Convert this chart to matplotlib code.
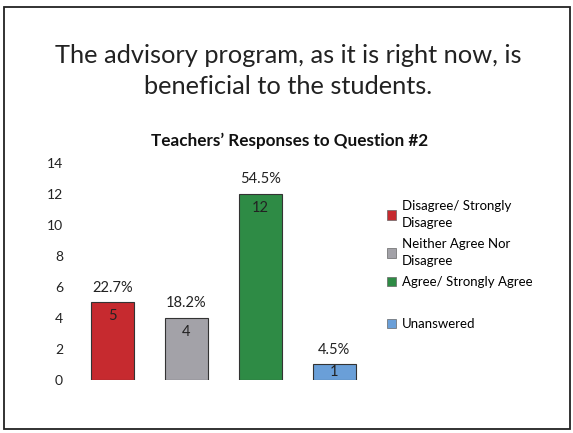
import matplotlib
matplotlib.use("Agg")
import matplotlib.pyplot as plt
from matplotlib.patches import Rectangle, Patch

plt.rcParams['font.family'] = ['Lato', 'DejaVu Sans']

# data
categories = ["Disagree/ Strongly\nDisagree", "Neither Agree Nor\nDisagree",
              "Agree/ Strongly Agree", "Unanswered"]
counts = [5, 4, 12, 1]
percents = ["22.7%", "18.2%", "54.5%", "4.5%"]
colors = ["#C62A2F", "#A3A2A8", "#2E8B45", "#6A9FD8"]
yticks = [0, 2, 4, 6, 8, 10, 12, 14]

fig = plt.figure(figsize=(5.73, 4.33), dpi=100)
fig.patch.set_facecolor("white")

# slide frame
fig.patches.append(Rectangle((4 / 573, 4 / 433), 566 / 573, 422 / 433,
                             transform=fig.transFigure, fill=False,
                             edgecolor="#222222", linewidth=1.3))

fig.text(0.503, 0.836, "The advisory program, as it is right now, is\nbeneficial to the students.",
         ha="center", va="center", fontsize=18.3, fontweight="normal",
         linespacing=1.4, color="#222222")
fig.text(0.505, 0.675, "Teachers\u2019 Responses to Question #2",
         ha="center", va="center", fontsize=12.3, fontweight="bold", color="#111111")

ax = fig.add_axes([0.1318, 0.1224, 0.5162, 0.5012])
x = range(len(counts))
bars = ax.bar(x, counts, width=0.58, color=colors, edgecolor="#333333", linewidth=0.8)

for i, b in enumerate(bars):
    cx = b.get_x() + b.get_width() / 2
    ax.text(cx, counts[i] + 0.5, percents[i],
            ha="center", va="bottom", fontsize=10.5, color="#222222")
    ax.text(cx, max(counts[i] - 0.9, counts[i] / 2), str(counts[i]),
            ha="center", va="center", fontsize=10.5, color="#222222")

ax.set_xlim(-0.5, 3.5)
ax.set_ylim(0, 14)
ax.set_yticks(yticks)
ax.set_xticks([])
ax.tick_params(axis="y", length=0, pad=9, labelsize=10, labelcolor="#222222")
for s in ax.spines.values():
    s.set_visible(False)

handles = [Patch(facecolor=c, edgecolor="#666666", linewidth=0.5) for c in colors]
leg_kw = dict(loc="upper left", frameon=False, fontsize=9.5, handlelength=0.7,
              handleheight=0.7, handletextpad=0.4)
leg = fig.legend(handles[:3], categories[:3], bbox_to_anchor=(0.655, 0.566),
                 labelspacing=0.65, **leg_kw)
for t in leg.get_texts():
    t.set_linespacing(1.55)
fig.legend(handles[3:], categories[3:], bbox_to_anchor=(0.655, 0.293), **leg_kw)

fig.savefig("out.png", dpi=100)
